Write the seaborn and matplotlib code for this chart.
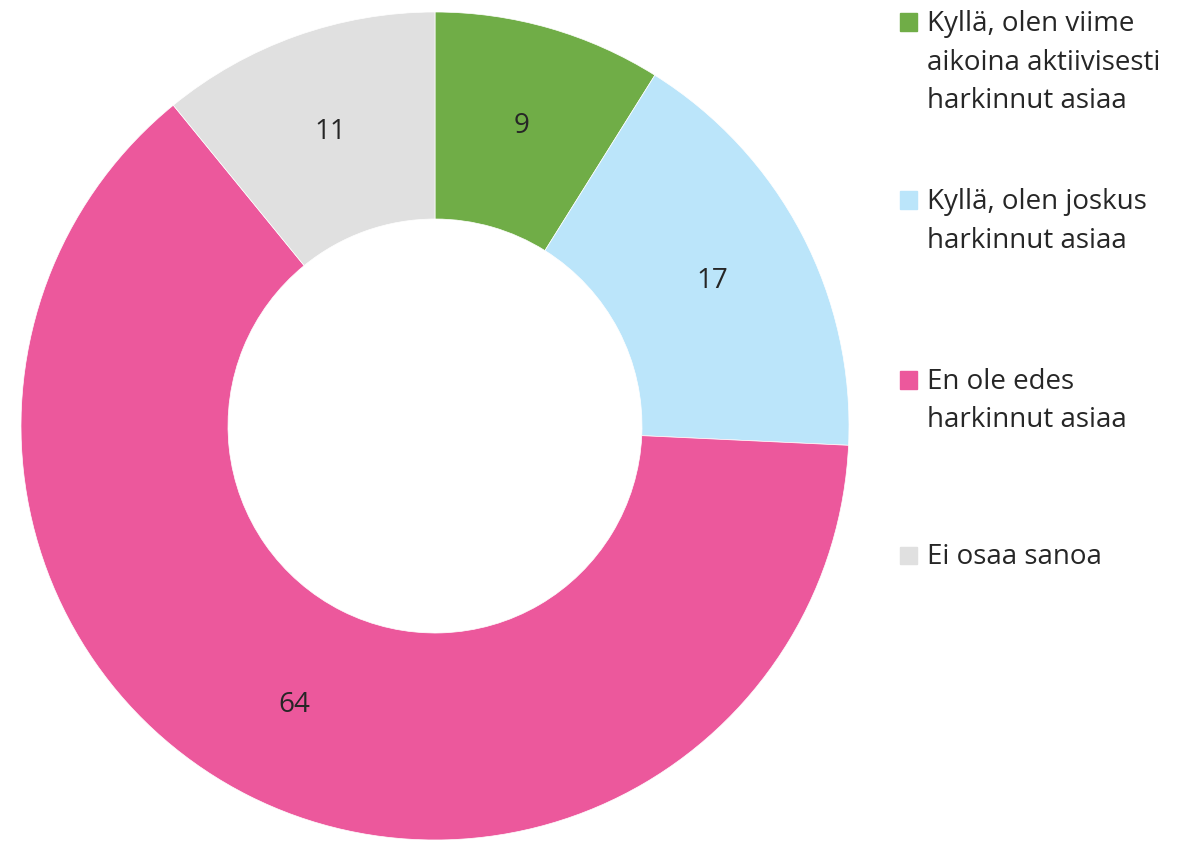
import matplotlib
matplotlib.use("Agg")
import matplotlib.pyplot as plt
import seaborn as sns

# データ
labels = ["Kyllä, olen viime\naikoina aktiivisesti\nharkinnut asiaa",
          "Kyllä, olen joskus\nharkinnut asiaa",
          "En ole edes\nharkinnut asiaa",
          "Ei osaa sanoa"]
values = [9, 17, 64, 11]
colors = ["#70AD47", "#BBE5FA", "#EC589C", "#E0E0E0"]
legend_y = [22, 200, 380, 555]  # 凡例の1行目の中心 (px)

sns.set_theme(style="white")
plt.rcParams["font.family"] = ["Open Sans", "DejaVu Sans"]
text_color = "#262626"

W, H = 1179, 843
fig = plt.figure(figsize=(W / 100, H / 100), dpi=100)

# ドーナツ
cx, cy, r = 435, 426, 414
ax = fig.add_axes([(cx - r) / W, (H - cy - r) / H, 2 * r / W, 2 * r / H])
wedges, _, autotexts = ax.pie(values, colors=colors, startangle=90, counterclock=False,
                              autopct=lambda p: f"{p * sum(values) / 100:.0f}",
                              pctdistance=0.755, radius=1,
                              wedgeprops=dict(width=0.5, edgecolor="white", linewidth=0.5),
                              textprops=dict(color=text_color, fontsize=20))
ax.set_xlim(-1, 1)
ax.set_ylim(-1, 1)
ax.set_aspect("equal")
ax.axis("off")

# 凡例（手動配置）
for lab, col, y in zip(labels, colors, legend_y):
    fig.patches.append(plt.Rectangle((900 / W, 1 - (y + 8.5) / H), 17 / W, 17 / H,
                                     transform=fig.transFigure, color=col, figure=fig))
    fig.text(927 / W, 1 - (y - 12) / H, lab, ha="left", va="top", fontsize=20,
             color=text_color, linespacing=1.5)

fig.savefig("out.png", dpi=100)
